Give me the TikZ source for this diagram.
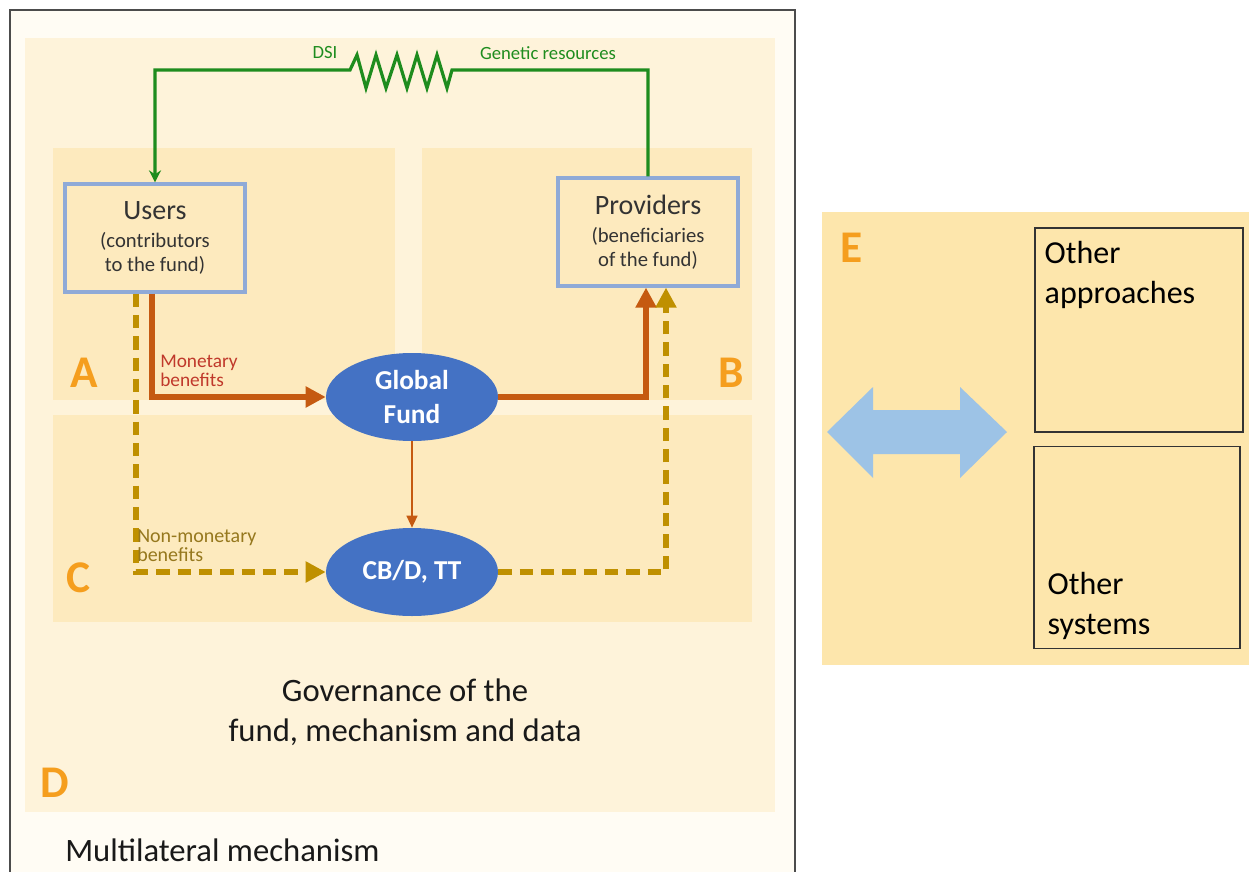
\documentclass[tikz,border=0pt]{standalone}
\usepackage{fontspec}
\setmainfont{Carlito}
\usetikzlibrary{arrows.meta,shapes.geometric,calc}
\definecolor{frameback}{RGB}{255,252,244}
\definecolor{dpanel}{RGB}{254,243,218}
\definecolor{subpanel}{RGB}{253,234,190}
\definecolor{epanel}{RGB}{253,230,172}
\definecolor{boxblue}{RGB}{143,170,215}
\definecolor{fundblue}{RGB}{68,114,196}
\definecolor{linkgreen}{RGB}{30,140,30}
\definecolor{monorange}{RGB}{197,90,17}
\definecolor{nonmongold}{RGB}{191,144,0}
\definecolor{lettero}{RGB}{245,158,30}
\definecolor{monlabel}{RGB}{192,57,43}
\definecolor{nonmonlabel}{RGB}{150,120,30}
\definecolor{bigarrow}{RGB}{157,195,230}
\tikzset{
  panel/.style={fill=subpanel, draw=none},
  actorbox/.style={draw=boxblue, line width=2.4pt, fill=subpanel, rectangle,
     minimum width=135pt, minimum height=81pt, align=center, inner sep=0pt, text=black!80,
     font=\fontsize{15.5}{18}\selectfont},
  fundell/.style={ellipse, fill=fundblue, draw=none, minimum width=129pt, minimum height=66pt,
     inner sep=0pt, text=white, font=\bfseries\fontsize{20.5}{25.5}\selectfont, align=center},
  letterlbl/.style={text=lettero, font=\bfseries\fontsize{34}{36}\selectfont, inner sep=0pt},
  greenlink/.style={draw=linkgreen, line width=2.4pt},
  monflow/.style={draw=monorange, line width=3.8pt, -{Triangle[length=15pt,width=15pt]}},
  nonmonflow/.style={draw=nonmongold, line width=4.4pt, dash pattern=on 10pt off 6pt,
     -{Triangle[length=15pt,width=15pt]}},
  otherbox/.style={draw=black!80, line width=0.9pt, fill=epanel, rectangle, inner sep=0pt},
  othertext/.style={font=\fontsize{24}{29.5}\selectfont, align=left, text=black, inner sep=0pt}
}
\begin{document}
\begin{tikzpicture}[x=0.75pt,y=-0.75pt]
\useasboundingbox (0,0) rectangle (1249,871);
\fill[white] (0,0) rectangle (1249,871);
% outer frame
\fill[frameback] (10,10) rectangle (795,875);
\draw[black!70, line width=1.1pt] (10,875) -- (10,10) -- (795,10) -- (795,875);
% panels
\fill[dpanel] (25,38) rectangle (775,812);
\fill[panel] (53,148) rectangle (395,400);
\fill[panel] (422,148) rectangle (752,400);
\fill[panel] (53,415) rectangle (752,622);
\fill[epanel] (822,212) rectangle (1249,665);

% letters
\node[letterlbl] (la) at (84,373) {A};
\node[letterlbl] (lb) at (731,373) {B};
\node[letterlbl] (lc) at (78,578) {C};
\node[letterlbl] (ld) at (55,783) {D};
\node[letterlbl] (le) at (852,248) {E};

% actors
\node[actorbox] (users) at (155,238) {{\fontsize{21}{21}\selectfont Users}\\[3pt]
  (contributors\\to the fund)};
\node[actorbox] (providers) at (648,232) {{\fontsize{21}{21}\selectfont Providers}\\[3pt]
  (beneficiaries\\of the fund)};

\node[fundell] (fund) at (412,397) {Global\\Fund};
\node[fundell] (cbd) at (412,572) {CB/D, TT};

% green link with resistor
\coordinate (rr) at (452,70);
\coordinate (rl) at (350,70);
\draw[greenlink, -{Stealth[length=9pt,width=9pt]}] (providers.north) |- (rr)
  -- (447,88) -- (437,55) -- (427,88) -- (417,55) -- (407,88) -- (397,55)
  -- (386,88) -- (376,55) -- (366,88) -- (357,55) -- (rl) -| (users.north);
\node[text=linkgreen, font=\fontsize{14}{16}\selectfont, inner sep=0pt] (dsi) at (325,53) {DSI};
\node[text=linkgreen, font=\fontsize{14}{16}\selectfont, inner sep=0pt] (gen) at (548,53) {Genetic resources};

% monetary flows
\draw[monflow] ($(users.south)+(-3,0)$) |- (fund.west);
\draw[monflow] (fund.east) -| ($(providers.south)+(-2,0)$);
\draw[draw=monorange, line width=1.6pt, -{Triangle[length=9pt,width=8pt]}] (fund.south) -- (cbd.north);

% non-monetary flows
\draw[nonmonflow] ($(users.south)+(-19,0)$) |- (cbd.west);
\draw[nonmonflow] (cbd.east) -| ($(providers.south)+(18,0)$);

\node[anchor=north west, align=left, text=monlabel, inner sep=0pt,
  font=\fontsize{14.5}{14}\selectfont] (monlbl) at (160,355) {Monetary\\benefits};
\node[anchor=north west, align=left, text=nonmonlabel, inner sep=0pt,
  font=\fontsize{15}{14.5}\selectfont] (nonmonlbl) at (137,529) {Non-monetary\\benefits};

% governance
\node[align=center, font=\fontsize{24.5}{30}\selectfont, text=black!90, inner sep=0pt] (gov) at (405,712)
  {Governance of the\\fund, mechanism and data};
\node[anchor=west, font=\fontsize{24.5}{26}\selectfont, text=black!90, inner sep=0pt] (multi) at (65,850)
  {Multilateral mechanism};

% E panel
\node[otherbox, minimum width=156pt, minimum height=153pt] (oa) at (1139,330) {};
\node[otherbox, minimum width=154.5pt, minimum height=152pt] (os) at (1137,547.5) {};
\node[othertext, anchor=north west] (oat) at ($(oa.north west)+(10,14)$) {Other\\approaches};
\node[othertext, anchor=south west] (ost) at ($(os.south west)+(14,-10)$) {Other\\systems};

% big double arrow
\fill[bigarrow] (827,432) -- (873,387) -- (873,410) -- (960,410) -- (960,387) -- (1007,432)
  -- (960,478) -- (960,454) -- (873,454) -- (873,478) -- cycle;
\end{tikzpicture}
\end{document}
